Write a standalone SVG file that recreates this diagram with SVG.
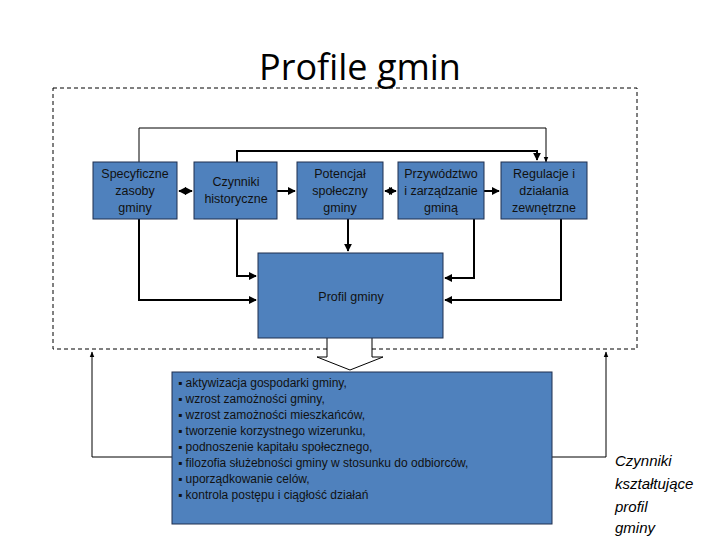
<svg xmlns="http://www.w3.org/2000/svg" width="720" height="540" viewBox="0 0 720 540">
<style>
.b{fill:#4f81bd;stroke:#1f2f4f;stroke-width:1}
.t{font-family:"Liberation Sans",Arial,sans-serif;font-size:12.5px;fill:#111;text-anchor:middle}
.l{font-family:"Liberation Sans",Arial,sans-serif;font-size:12px;fill:#111}
.c{fill:none;stroke:#000;stroke-width:2}
.c1{fill:none;stroke:#000;stroke-width:1}
</style>
<defs>
<marker id="a" viewBox="0 0 10 10" refX="9" refY="5" markerWidth="4" markerHeight="4" orient="auto-start-reverse"><path d="M0,0L10,5L0,10z" fill="#000"/></marker>
<marker id="a1" viewBox="0 0 10 10" refX="9" refY="5" markerWidth="6" markerHeight="6" orient="auto"><path d="M0,1L10,5L0,9z" fill="#000"/></marker>
</defs>
<rect width="720" height="540" fill="#fff"/>
<text x="360" y="80" font-family="'Open Sans','Liberation Sans',sans-serif" font-size="36" text-anchor="middle" fill="#000">Profile gmin</text>
<rect x="53" y="88" width="584" height="261" fill="none" stroke="#000" stroke-dasharray="4,3"/>
<g id="connectors">
<path class="c1" d="M139,162V128H546V162" marker-end="url(#a1)"/>
<path class="c" d="M237,162V151H537V160" marker-end="url(#a)"/>
<path class="c" d="M179,191H192" marker-start="url(#a)" marker-end="url(#a)"/>
<path class="c" d="M277,191H295" marker-end="url(#a)"/>
<path class="c" d="M385,191H396" marker-start="url(#a)" marker-end="url(#a)"/>
<path class="c" d="M484,191H499" marker-end="url(#a)"/>
<path class="c" d="M139,219V300H256" marker-end="url(#a)"/>
<path class="c" d="M237,219V276H256" marker-end="url(#a)"/>
<path class="c" d="M348,219V251" marker-end="url(#a)"/>
<path class="c" d="M474,219V278H445" marker-end="url(#a)"/>
<path class="c" d="M561,219V300H445" marker-end="url(#a)"/>
<path d="M327,338V357H317L350,370L383,357H372V338" fill="#fff" stroke="#000" stroke-width="1"/>
<path class="c1" d="M172,457H92V352" marker-end="url(#a1)"/>
<path class="c1" d="M552,457H606V352" marker-end="url(#a1)"/>
</g>
<g id="n1"><rect class="b" x="93" y="162" width="84" height="57"/><text class="t" x="135" y="178">Specyficzne</text><text class="t" x="135" y="195">zasoby</text><text class="t" x="135" y="212">gminy</text></g>
<g id="n2"><rect class="b" x="194" y="162" width="83" height="57"/><text class="t" x="236" y="186">Czynniki</text><text class="t" x="236" y="203">historyczne</text></g>
<g id="n3"><rect class="b" x="297" y="162" width="86" height="57"/><text class="t" x="340" y="178">Potencjał</text><text class="t" x="340" y="195">społeczny</text><text class="t" x="340" y="212">gminy</text></g>
<g id="n4"><rect class="b" x="398" y="162" width="86" height="57"/><text class="t" x="441" y="178">Przywództwo</text><text class="t" x="441" y="195">i zarządzanie</text><text class="t" x="441" y="212">gminą</text></g>
<g id="n5"><rect class="b" x="501" y="162" width="86" height="57"/><text class="t" x="544" y="178">Regulacje i</text><text class="t" x="544" y="195">działania</text><text class="t" x="544" y="212">zewnętrzne</text></g>
<g id="n6"><rect class="b" x="258" y="253" width="185" height="85"/><text class="t" x="351" y="301" font-size="16">Profil gminy</text></g>
<g id="n7"><rect class="b" x="172" y="372" width="380" height="152"/>
<text class="l" x="178" y="387">▪ aktywizacja gospodarki gminy,</text>
<text class="l" x="178" y="403">▪ wzrost zamożności gminy,</text>
<text class="l" x="178" y="419">▪ wzrost zamożności mieszkańców,</text>
<text class="l" x="178" y="435">▪ tworzenie korzystnego wizerunku,</text>
<text class="l" x="178" y="451">▪ podnoszenie kapitału społecznego,</text>
<text class="l" x="178" y="467">▪ filozofia służebności gminy w stosunku do odbiorców,</text>
<text class="l" x="178" y="483">▪ uporządkowanie celów,</text>
<text class="l" x="178" y="499">▪ kontrola postępu i ciągłość działań</text>
</g>
<g id="label" font-family="'Liberation Sans',Arial,sans-serif" font-size="15" font-style="italic" fill="#000">
<text x="615" y="466">Czynniki</text><text x="615" y="489">kształtujące</text><text x="615" y="512">profil</text><text x="615" y="533">gminy</text></g>
</svg>
